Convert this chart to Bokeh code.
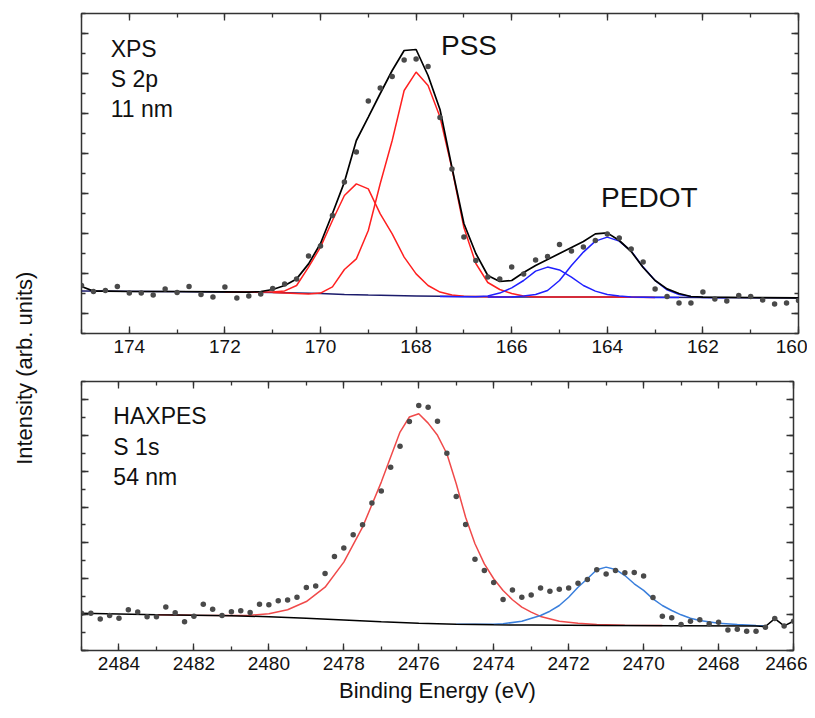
import math
from bokeh.plotting import figure
from bokeh.models import Range1d, LinearAxis, SingleIntervalTicker, Label, CustomLabelingPolicy
from bokeh.layouts import row, column
from bokeh.embed import file_html
from bokeh.resources import INLINE

FONT = "Liberation Sans"

# ---------------- XPS S 2p (top) ----------------
xps_x = [175.0, 174.75, 174.5, 174.25, 174.0, 173.75, 173.5, 173.25, 173.0, 172.75,
         172.5, 172.25, 172.0, 171.75, 171.5, 171.25, 171.0, 170.75, 170.5, 170.25,
         170.0, 169.75, 169.5, 169.25, 169.0, 168.75, 168.5, 168.25, 168.0, 167.75,
         167.5, 167.25, 167.0, 166.75, 166.5, 166.25, 166.0, 165.75, 165.5, 165.25,
         165.0, 164.75, 164.5, 164.25, 164.0, 163.75, 163.5, 163.25, 163.0, 162.75,
         162.5, 162.25, 162.0, 161.75, 161.5, 161.25, 161.0, 160.75, 160.5, 160.25, 160.0]
xps_y = [1.4, 1.1, 1.15, 1.35, 1.02, 1.02, 0.92, 1.22, 1.05, 1.35,
         0.95, 0.82, 1.32, 0.78, 0.88, 0.98, 1.25, 1.48, 1.72, 2.88,
         3.38, 4.9, 6.57, 8.07, 10.62, 11.27, 11.85, 12.68, 12.73, 12.35,
         9.8, 7.23, 3.82, 2.65, 1.82, 1.73, 2.32, 1.98, 2.68, 2.85,
         3.45, 3.12, 3.32, 3.65, 3.98, 3.78, 3.23, 2.57, 1.23, 0.85,
         0.52, 0.52, 1.07, 0.73, 0.62, 0.9, 0.85, 0.68, 0.48, 0.53, 0.65]

xps_env_x = [175.0, 174.75, 174.5, 174.0, 173.0, 172.0, 171.5, 171.25, 171.0, 170.75,
             170.5, 170.25, 170.0, 169.75, 169.5, 169.25, 169.0, 168.75, 168.5, 168.25,
             168.0, 167.75, 167.5, 167.25, 167.0, 166.75, 166.5, 166.25, 166.0, 165.75,
             165.5, 165.25, 165.0, 164.75, 164.5, 164.25, 164.0, 163.75, 163.5, 163.25,
             163.0, 162.75, 162.5, 162.25, 162.0, 161.0, 160.0]
xps_env_y = [1.35, 1.12, 1.12, 1.1, 1.1, 1.08, 1.07, 1.1, 1.2, 1.4,
             1.73, 2.48, 3.5, 5.0, 6.57, 8.65, 9.82, 11.0, 12.15, 13.15,
             13.2, 11.9, 10.2, 7.3, 4.5, 3.0, 1.9, 1.6, 1.65, 2.05,
             2.4, 2.7, 3.0, 3.3, 3.6, 3.98, 4.03, 3.65, 3.1, 2.3,
             1.65, 1.23, 1.0, 0.85, 0.82, 0.8, 0.78]

pss1_x = [171.0, 170.5, 170.25, 170.0, 169.75, 169.5, 169.25, 169.0, 168.75, 168.5,
          168.25, 168.0, 167.75, 167.5, 167.25, 167.0, 166.75, 166.5, 166.25, 166.0,
          165.75, 165.5, 165.0, 164.0, 163.0]
pss1_y = [1.05, 1.0, 0.98, 1.02, 1.33, 2.2, 2.73, 4.15, 6.5, 8.65,
          11.15, 12.07, 11.4, 9.82, 7.25, 4.3, 2.5, 1.55, 1.2, 1.0,
          0.88, 0.83, 0.82, 0.82, 0.8]

pss2_x = [172.0, 171.0, 170.75, 170.5, 170.25, 170.0, 169.75, 169.5, 169.25, 169.0,
          168.75, 168.5, 168.25, 168.0, 167.75, 167.5, 167.25, 167.0, 166.5, 166.0]
pss2_y = [1.08, 1.07, 1.13, 1.4, 2.32, 3.32, 4.65, 5.9, 6.48, 6.23,
          4.98, 3.98, 2.82, 1.98, 1.4, 1.07, 0.92, 0.86, 0.84, 0.82]

pedot1_x = [167.5, 167.0, 166.75, 166.5, 166.25, 166.0, 165.75, 165.5, 165.25, 165.0,
            164.75, 164.5, 164.25, 164.0, 163.75, 163.5, 163.0, 162.5]
pedot1_y = [0.85, 0.84, 0.84, 0.88, 1.02, 1.28, 1.65, 2.12, 2.32, 2.18,
            1.82, 1.4, 1.12, 0.95, 0.87, 0.82, 0.8, 0.8]

pedot2_x = [166.5, 166.0, 165.75, 165.5, 165.25, 165.0, 164.75, 164.5, 164.25, 164.0,
            163.75, 163.5, 163.25, 163.0, 162.75, 162.5, 162.25, 162.0, 161.5]
pedot2_y = [0.82, 0.83, 0.87, 0.95, 1.15, 1.65, 2.4, 3.07, 3.62, 3.82,
            3.62, 3.12, 2.32, 1.65, 1.18, 0.95, 0.85, 0.8, 0.79]

xps_bg_x = [175.0, 172.0, 171.0, 170.0, 169.5, 169.0, 168.0, 167.0, 166.0, 164.0, 162.0, 160.0]
xps_bg_y = [1.12, 1.08, 1.05, 1.0, 0.95, 0.92, 0.88, 0.85, 0.83, 0.82, 0.8, 0.77]

# ---------------- HAXPES S 1s (bottom) ----------------
hax_x = [2485.0, 2484.75, 2484.5, 2484.25, 2484.0, 2483.75, 2483.5, 2483.25, 2483.0, 2482.75,
         2482.5, 2482.25, 2482.0, 2481.75, 2481.5, 2481.25, 2481.0, 2480.75, 2480.5, 2480.25,
         2480.0, 2479.75, 2479.5, 2479.25, 2479.0, 2478.75, 2478.5, 2478.25, 2478.0, 2477.75,
         2477.5, 2477.25, 2477.0, 2476.75, 2476.5, 2476.25, 2476.0, 2475.75, 2475.5, 2475.25,
         2475.0, 2474.75, 2474.5, 2474.25, 2474.0, 2473.75, 2473.5, 2473.25, 2473.0, 2472.75,
         2472.5, 2472.25, 2472.0, 2471.75, 2471.5, 2471.25, 2471.0, 2470.75, 2470.5, 2470.25,
         2470.0, 2469.75, 2469.5, 2469.25, 2469.0, 2468.75, 2468.5, 2468.25, 2468.0, 2467.75,
         2467.5, 2467.25, 2467.0, 2466.75, 2466.5, 2466.25, 2466.0]
hax_y = [2.08, 2.08, 1.76, 1.95, 1.8, 2.27, 2.14, 1.88, 1.88, 2.42,
         2.1, 1.6, 1.91, 2.58, 2.3, 1.95, 2.16, 2.21, 2.12, 2.58,
         2.55, 2.77, 2.81, 2.97, 3.51, 3.59, 4.29, 5.24, 5.71, 6.45,
         7.01, 8.22, 8.89, 10.22, 11.39, 12.77, 13.66, 13.57, 12.79, 11.0,
         8.59, 7.03, 5.09, 4.46, 3.79, 2.84, 3.38, 2.97, 3.1, 3.49,
         3.31, 3.42, 3.49, 3.75, 3.96, 4.5, 4.26, 4.46, 4.33, 4.35,
         4.16, 2.96, 1.91, 1.82, 1.45, 1.63, 1.71, 1.49, 1.58, 1.15,
         1.19, 1.08, 1.08, 1.3, 1.78, 1.37, 1.63]

hax_red_x = [2483.0, 2482.0, 2481.0, 2480.5, 2480.0, 2479.5, 2479.0, 2478.5, 2478.0, 2477.5,
             2477.0, 2476.5, 2476.25, 2476.0, 2475.75, 2475.5, 2475.25, 2475.0, 2474.75, 2474.5,
             2474.25, 2474.0, 2473.75, 2473.5, 2473.25, 2473.0, 2472.75, 2472.25, 2471.75, 2471.25,
             2470.5, 2469.5]
hax_red_y = [2.0, 1.97, 1.95, 1.96, 2.05, 2.27, 2.73, 3.53, 4.93, 6.88,
             9.39, 12.18, 13.02, 13.2, 12.68, 12.0, 10.97, 9.3, 7.43, 5.95,
             4.83, 4.0, 3.35, 2.83, 2.42, 2.14, 1.9, 1.63, 1.52, 1.45,
             1.41, 1.4]

hax_blue_x = [2475.0, 2474.0, 2473.75, 2473.25, 2472.75, 2472.5, 2472.25, 2472.0, 2471.75, 2471.5,
              2471.25, 2471.0, 2470.75, 2470.5, 2470.25, 2470.0, 2469.75, 2469.5, 2469.25, 2469.0,
              2468.75, 2468.5, 2468.0, 2467.5, 2467.0, 2466.75]
hax_blue_y = [1.46, 1.47, 1.49, 1.63, 1.95, 2.19, 2.51, 2.97, 3.53, 4.0,
              4.5, 4.65, 4.52, 4.18, 3.72, 3.35, 2.88, 2.51, 2.23, 1.99,
              1.8, 1.67, 1.52, 1.45, 1.39, 1.38]

hax_bg_x = [2485.0, 2483.0, 2481.0, 2480.0, 2479.0, 2478.0, 2477.0, 2476.0, 2475.0, 2474.0,
            2473.0, 2471.0, 2469.0, 2467.0, 2466.75, 2466.5, 2466.25, 2466.0]
hax_bg_y = [2.08, 2.0, 1.94, 1.88, 1.8, 1.7, 1.6, 1.52, 1.46, 1.43,
            1.42, 1.4, 1.38, 1.36, 1.34, 1.78, 1.37, 1.63]

FRAME = "#333333"
DOT = "#4a4a4a"


def style_panel(p):
    p.outline_line_color = FRAME
    p.outline_line_width = 1.5
    p.grid.visible = False
    p.background_fill_color = "white"
    p.border_fill_color = "white"
    xt = SingleIntervalTicker(interval=2, num_minor_ticks=2)
    yt = SingleIntervalTicker(interval=2, num_minor_ticks=2)
    p.below[0].ticker = xt
    p.left[0].ticker = yt
    p.add_layout(LinearAxis(ticker=xt), "above")
    p.add_layout(LinearAxis(ticker=yt), "right")
    for ax in p.axis:
        ax.axis_line_color = None
        ax.major_tick_in = 7
        ax.major_tick_out = 0
        ax.minor_tick_in = 4
        ax.minor_tick_out = 0
        ax.major_tick_line_color = FRAME
        ax.minor_tick_line_color = FRAME
        ax.major_tick_line_width = 1.3
        ax.minor_tick_line_width = 1.3
        ax.major_label_text_font = FONT
        ax.major_label_text_color = "#111111"
    for ax in p.above + p.left + p.right:
        ax.major_label_policy = CustomLabelingPolicy(code="return new Set()")
        ax.major_label_text_font_size = "1px"
        ax.major_label_standoff = 0
    b = p.below[0]
    b.major_label_text_font_size = "19px"
    b.major_label_standoff = 6


# top panel (page has no body margin, so the 8px offset is built into the borders)
top = figure(x_range=Range1d(175, 160), y_range=Range1d(-1, 15),
             frame_width=717, frame_height=320,
             min_border_left=8, min_border_right=14, min_border_top=13, min_border_bottom=32,
             output_backend="svg", toolbar_location=None)
style_panel(top)
top.line(xps_bg_x, xps_bg_y, line_color="#1b1b6b", line_width=1.5)
top.line(pss1_x, pss1_y, line_color="#ff2020", line_width=1.5)
top.line(pss2_x, pss2_y, line_color="#ff2020", line_width=1.5)
top.line(pedot1_x, pedot1_y, line_color="#2020ff", line_width=1.5)
top.line(pedot2_x, pedot2_y, line_color="#2020ff", line_width=1.5)
top.line(xps_env_x, xps_env_y, line_color="black", line_width=1.7)
top.scatter(xps_x, xps_y, size=5.5, fill_color=DOT, line_color=None)

for txt, x, y, fs in [("XPS", 174.39, 13.25, "23px"), ("S 2p", 174.39, 11.75, "23px"),
                      ("11 nm", 174.39, 10.25, "23px"), ("PSS", 167.48, 13.4, "28px"),
                      ("PEDOT", 164.13, 5.8, "28px")]:
    top.add_layout(Label(x=x, y=y, text=txt, text_font=FONT, text_font_size=fs,
                         text_color="#111111", text_baseline="alphabetic"))

# bottom panel
bot = figure(x_range=Range1d(2485, 2466), y_range=Range1d(0, 15),
             frame_width=712, frame_height=269,
             min_border_left=13, min_border_right=14, min_border_top=16, min_border_bottom=59,
             output_backend="svg", toolbar_location=None)
style_panel(bot)
bax = bot.below[0]
bax.axis_label = "Binding Energy (eV)"
bax.axis_label_text_font = FONT
bax.axis_label_text_font_size = "22px"
bax.axis_label_text_font_style = "normal"
bax.axis_label_text_color = "#111111"
bax.axis_label_standoff = 5
bot.line(hax_red_x, hax_red_y, line_color="#f04a4a", line_width=1.5)
bot.line(hax_blue_x, hax_blue_y, line_color="#3a7fdc", line_width=1.5)
bot.line(hax_bg_x, hax_bg_y, line_color="black", line_width=1.5)
bot.scatter(hax_x, hax_y, size=5.5, fill_color=DOT, line_color=None)

for txt, x, y in [("HAXPES", 2484.15, 13.05), ("S 1s", 2484.15, 11.35), ("54 nm", 2484.15, 9.65)]:
    bot.add_layout(Label(x=x, y=y, text=txt, text_font=FONT, text_font_size="23px",
                         text_color="#111111", text_baseline="alphabetic"))

# shared y label
lab = figure(width=68, height=710, x_range=Range1d(0, 1), y_range=Range1d(0, 1),
             min_border=0, output_backend="svg", toolbar_location=None)
lab.axis.visible = False
lab.grid.visible = False
lab.outline_line_color = None
lab.add_layout(Label(x=0.353, y=0.482, text="Intensity (arb. units)", angle=math.pi / 2,
                     text_align="center", text_baseline="middle", text_font=FONT,
                     text_font_size="22px", text_color="#111111"))

layout = row(lab, column(top, bot))
open("out.html", "w").write(file_html(layout, INLINE))
